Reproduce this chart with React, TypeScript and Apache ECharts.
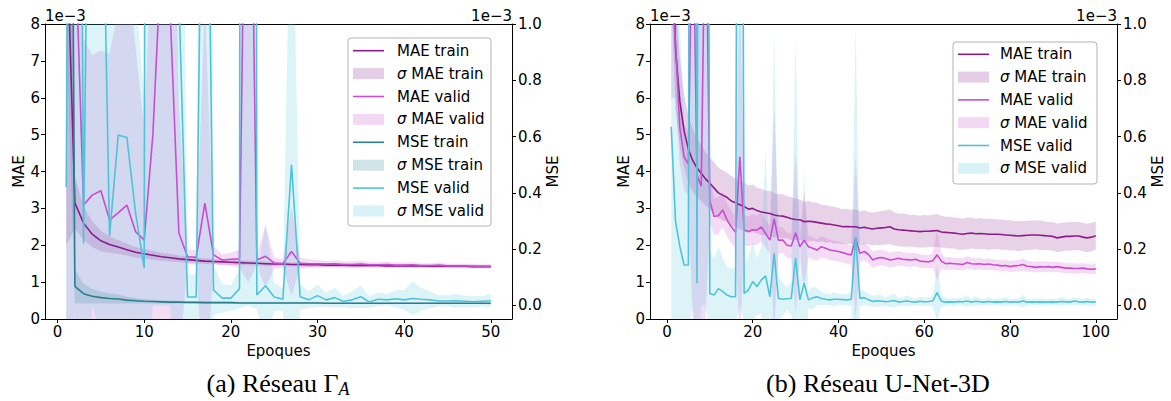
import React, { useEffect, useRef } from "react";
import * as echarts from "echarts";

// ---------- DATA ----------
// (a) Réseau Γ_A : epochs 1..50 — MAE and MSE values in units of 1e-3
const epochsA = Array.from({ length: 50 }, (_, i) => i + 1);
const maeTrainA = [11.0, 3.15, 2.6, 2.3, 2.12, 2.02, 1.95, 1.88, 1.81, 1.77, 1.73, 1.69, 1.66, 1.63, 1.61, 1.59, 1.57, 1.56, 1.55, 1.54, 1.53, 1.52, 1.51, 1.5, 1.49, 1.49, 1.48, 1.48, 1.47, 1.47, 1.46, 1.46, 1.46, 1.45, 1.45, 1.45, 1.45, 1.44, 1.44, 1.44, 1.44, 1.44, 1.43, 1.43, 1.43, 1.43, 1.43, 1.42, 1.42, 1.42];
const maeTrainStdA = [9, 0.7, 0.45, 0.35, 0.28, 0.22, 0.19, 0.16, 0.14, 0.13, 0.12, 0.11, 0.1, 0.09, 0.085, 0.08, 0.08, 0.075, 0.07, 0.07, 0.065, 0.065, 0.06, 0.06, 0.06, 0.055, 0.055, 0.055, 0.05, 0.05, 0.05, 0.05, 0.05, 0.05, 0.045, 0.045, 0.045, 0.045, 0.045, 0.045, 0.04, 0.04, 0.04, 0.04, 0.04, 0.04, 0.04, 0.04, 0.04, 0.04];
const maeValidA = [9, 10.6, 3.09, 3.36, 3.48, 2.69, 2.88, 3.09, 2.37, 2.14, 5.0, 10, 8.3, 2.33, 1.69, 1.67, 3.14, 1.74, 1.6, 1.62, 1.63, 19, 1.6, 1.7, 1.52, 1.5, 1.83, 1.51, 1.5, 1.5, 1.49, 1.5, 1.48, 1.48, 1.49, 1.47, 1.47, 1.48, 1.46, 1.46, 1.47, 1.45, 1.45, 1.46, 1.44, 1.44, 1.44, 1.43, 1.43, 1.43];
const maeValidStdA = [12, 12, 4.5, 3.8, 3.8, 4.5, 5.5, 6.5, 5, 3, 6, 10, 9, 3.5, 0.2, 0.2, 5.5, 0.25, 0.15, 0.18, 0.25, 18, 0.15, 0.85, 0.15, 0.12, 1.2, 0.15, 0.12, 0.1, 0.08, 0.09, 0.08, 0.08, 0.09, 0.07, 0.07, 0.08, 0.07, 0.07, 0.07, 0.06, 0.06, 0.07, 0.06, 0.06, 0.06, 0.06, 0.05, 0.06];
const mseTrainA = [5.0, 0.068, 0.042, 0.033, 0.028, 0.025, 0.023, 0.019, 0.017, 0.015, 0.014, 0.013, 0.012, 0.012, 0.011, 0.011, 0.01, 0.01, 0.01, 0.01, 0.009, 0.009, 0.009, 0.009, 0.009, 0.009, 0.009, 0.009, 0.009, 0.009, 0.008, 0.008, 0.008, 0.008, 0.008, 0.008, 0.008, 0.008, 0.008, 0.008, 0.008, 0.008, 0.008, 0.008, 0.008, 0.008, 0.008, 0.008, 0.008, 0.008];
const mseTrainStdA = [4, 0.06, 0.035, 0.026, 0.021, 0.018, 0.016, 0.012, 0.01, 0.008, 0.007, 0.006, 0.006, 0.005, 0.005, 0.005, 0.005, 0.004, 0.004, 0.004, 0.004, 0.004, 0.004, 0.004, 0.004, 0.004, 0.004, 0.004, 0.004, 0.004, 0.003, 0.003, 0.003, 0.003, 0.003, 0.003, 0.003, 0.003, 0.003, 0.003, 0.003, 0.003, 0.003, 0.003, 0.003, 0.003, 0.003, 0.003, 0.003, 0.003];
const mseValidA = [0.42, 6, 0.22, 3, 1.9, 0.247, 0.606, 0.597, 0.33, 0.133, 20, 8, 10, 1.1, 0.03, 0.03, 2.5, 0.055, 0.026, 0.026, 0.06, 30, 0.037, 0.07, 0.03, 0.022, 0.5, 0.031, 0.02, 0.035, 0.02, 0.028, 0.014, 0.02, 0.031, 0.012, 0.022, 0.02, 0.024, 0.02, 0.025, 0.022, 0.02, 0.016, 0.016, 0.017, 0.015, 0.013, 0.015, 0.017];
const mseValidStdA = [1.5, 6, 1.2, 3, 2, 1.0, 1.2, 1.0, 0.8, 0.6, 20, 8, 10, 2, 0.08, 0.08, 3, 0.09, 0.05, 0.045, 0.07, 30, 0.05, 0.22, 0.05, 0.04, 1.2, 0.045, 0.03, 0.04, 0.025, 0.035, 0.02, 0.03, 0.04, 0.02, 0.025, 0.02, 0.03, 0.035, 0.06, 0.04, 0.03, 0.02, 0.02, 0.025, 0.02, 0.02, 0.018, 0.025];

// (b) Réseau U-Net-3D : epochs 1..100
const epochsB = Array.from({ length: 100 }, (_, i) => i + 1);
const maeTrainB = [12, 7.3, 5.9, 5.1, 4.6, 4.3, 4.1, 3.95, 3.8, 3.68, 3.55, 3.42, 3.36, 3.3, 3.2, 3.15, 3.1, 3.05, 2.98, 3.0, 2.94, 2.9, 2.88, 2.86, 2.82, 2.8, 2.79, 2.76, 2.72, 2.7, 2.69, 2.64, 2.65, 2.64, 2.62, 2.6, 2.58, 2.57, 2.55, 2.53, 2.5, 2.51, 2.5, 2.5, 2.47, 2.49, 2.46, 2.44, 2.46, 2.47, 2.48, 2.5, 2.44, 2.42, 2.41, 2.4, 2.39, 2.38, 2.37, 2.38, 2.38, 2.39, 2.4, 2.36, 2.35, 2.34, 2.33, 2.31, 2.3, 2.32, 2.33, 2.31, 2.32, 2.31, 2.3, 2.3, 2.3, 2.29, 2.28, 2.27, 2.26, 2.25, 2.26, 2.27, 2.28, 2.28, 2.27, 2.26, 2.25, 2.24, 2.2, 2.22, 2.24, 2.24, 2.25, 2.25, 2.22, 2.2, 2.22, 2.26];
const maeTrainStdB = [3, 1.6, 1.2, 1.0, 0.9, 0.85, 0.8, 0.76, 0.72, 0.7, 0.7, 0.68, 0.68, 0.66, 0.68, 0.66, 0.65, 0.66, 0.64, 0.65, 0.62, 0.63, 0.6, 0.62, 0.6, 0.58, 0.6, 0.57, 0.58, 0.56, 0.55, 0.54, 0.55, 0.52, 0.53, 0.5, 0.51, 0.49, 0.5, 0.48, 0.47, 0.48, 0.46, 0.47, 0.45, 0.46, 0.44, 0.45, 0.45, 0.46, 0.46, 0.47, 0.45, 0.44, 0.45, 0.44, 0.43, 0.44, 0.43, 0.44, 0.43, 0.44, 0.45, 0.43, 0.42, 0.43, 0.42, 0.43, 0.42, 0.43, 0.42, 0.41, 0.42, 0.41, 0.42, 0.41, 0.4, 0.41, 0.4, 0.41, 0.4, 0.41, 0.4, 0.39, 0.4, 0.39, 0.4, 0.39, 0.38, 0.39, 0.38, 0.39, 0.38, 0.39, 0.38, 0.38, 0.39, 0.38, 0.39, 0.38];
const maeValidB = [9, 7.5, 5.2, 4.4, 4.2, 12, 3.9, 3.6, 12, 3.2, 2.78, 2.8, 2.96, 2.69, 2.5, 2.35, 4.4, 2.41, 2.37, 2.42, 2.41, 2.5, 2.32, 2.14, 2.72, 2.14, 2.14, 2.0, 1.98, 2.34, 1.96, 2.14, 1.96, 1.92, 1.87, 1.96, 1.92, 1.87, 1.85, 1.83, 1.8, 1.76, 1.74, 2.19, 1.78, 1.83, 1.75, 1.6, 1.65, 1.67, 1.64, 1.6, 1.62, 1.65, 1.62, 1.61, 1.6, 1.62, 1.57, 1.56, 1.55, 1.58, 1.74, 1.57, 1.5, 1.51, 1.5, 1.49, 1.48, 1.53, 1.5, 1.49, 1.5, 1.48, 1.49, 1.47, 1.46, 1.44, 1.45, 1.42, 1.44, 1.45, 1.48, 1.43, 1.42, 1.4, 1.42, 1.41, 1.42, 1.4, 1.42, 1.4, 1.38, 1.38, 1.37, 1.37, 1.38, 1.36, 1.35, 1.36];
const maeValidStdB = [3, 1.5, 1.0, 0.9, 0.85, 12, 4, 5, 12, 0.6, 0.5, 0.5, 0.48, 0.45, 0.45, 0.42, 5, 0.42, 0.4, 0.42, 0.4, 0.4, 0.38, 0.38, 3.0, 0.36, 0.35, 0.34, 0.34, 2.2, 0.32, 1.3, 0.3, 0.3, 0.29, 0.29, 0.28, 0.28, 0.27, 0.27, 0.26, 0.26, 0.25, 2.2, 0.24, 0.23, 0.23, 0.22, 0.22, 0.21, 0.21, 0.2, 0.2, 0.2, 0.19, 0.19, 0.19, 0.18, 0.18, 0.18, 0.18, 0.2, 0.68, 0.2, 0.17, 0.17, 0.16, 0.17, 0.16, 0.17, 0.16, 0.16, 0.16, 0.15, 0.16, 0.15, 0.15, 0.15, 0.15, 0.15, 0.15, 0.15, 0.17, 0.15, 0.14, 0.14, 0.15, 0.14, 0.14, 0.14, 0.14, 0.14, 0.14, 0.13, 0.14, 0.13, 0.14, 0.13, 0.13, 0.14];
const mseValidB = [0.635, 0.3, 0.21, 0.144, 0.144, 8, 0.079, 6, 5, 0.043, 0.037, 0.06, 0.05, 0.037, 0.031, 0.031, 5, 0.043, 0.055, 0.085, 0.067, 0.09, 0.105, 0.031, 0.185, 0.025, 0.022, 0.024, 0.025, 0.168, 0.02, 0.079, 0.02, 0.027, 0.031, 0.025, 0.022, 0.02, 0.022, 0.022, 0.021, 0.02, 0.022, 0.245, 0.025, 0.028, 0.02, 0.014, 0.017, 0.016, 0.013, 0.015, 0.018, 0.012, 0.014, 0.016, 0.013, 0.012, 0.015, 0.013, 0.014, 0.016, 0.046, 0.015, 0.012, 0.013, 0.012, 0.014, 0.013, 0.016, 0.012, 0.015, 0.013, 0.012, 0.014, 0.012, 0.013, 0.012, 0.014, 0.012, 0.013, 0.012, 0.016, 0.012, 0.013, 0.012, 0.013, 0.012, 0.012, 0.013, 0.012, 0.014, 0.013, 0.012, 0.016, 0.013, 0.012, 0.014, 0.012, 0.012];
const mseValidStdB = [0.8, 0.7, 0.8, 0.5, 0.25, 8, 0.3, 6, 5, 0.15, 0.13, 0.15, 0.12, 0.1, 0.1, 0.1, 5, 0.1, 0.12, 0.14, 0.1, 0.12, 0.45, 0.05, 0.78, 0.08, 0.06, 0.04, 0.06, 0.8, 0.05, 0.4, 0.03, 0.04, 0.03, 0.025, 0.02, 0.02, 0.025, 0.02, 0.02, 0.02, 0.025, 0.76, 0.03, 0.025, 0.02, 0.02, 0.02, 0.02, 0.015, 0.02, 0.025, 0.015, 0.015, 0.02, 0.015, 0.012, 0.015, 0.015, 0.015, 0.02, 0.1, 0.02, 0.015, 0.012, 0.015, 0.012, 0.015, 0.02, 0.012, 0.018, 0.012, 0.012, 0.015, 0.012, 0.012, 0.012, 0.015, 0.012, 0.012, 0.012, 0.022, 0.012, 0.012, 0.012, 0.012, 0.012, 0.012, 0.012, 0.012, 0.015, 0.012, 0.012, 0.015, 0.012, 0.012, 0.014, 0.012, 0.012];

// tick labels
const xTicksA = [0, 10, 20, 30, 40, 50];
const xTicksB = [0, 20, 40, 60, 80, 100];
const mseTicks = [0, 0.2, 0.4, 0.6, 0.8, 1.0];

// ---------- STYLE ----------
const FONT = "DejaVu Sans";
const FS = 15;
const C = {
  maeTrain: "#8B1C8B",
  maeValid: "#C84ECF",
  mseTrain: "#2A7F8E",
  mseValid: "#4EC4D9",
};

function lineSeries(name: string, xs: number[], ys: number[], color: string, xi: number, yi: number) {
  return {
    type: "line",
    name,
    xAxisIndex: xi,
    yAxisIndex: yi,
    data: ys.map((v, i) => [xs[i], v]),
    symbol: "none",
    lineStyle: { color, width: 1.6 },
    itemStyle: { color },
    silent: true,
  };
}

// mean ± std band, drawn as one polygon through the axes' own scales
function bandSeries(name: string, xs: number[], mean: number[], std: number[], color: string, xi: number, yi: number) {
  const data = xs.map((x, i) => [x, mean[i] - std[i], mean[i] + std[i]]);
  return {
    type: "custom",
    name,
    xAxisIndex: xi,
    yAxisIndex: yi,
    data,
    encode: { x: 0, y: [1, 2] },
    silent: true,
    renderItem: (params: any, api: any) => {
      if (params.dataIndex !== 0) return null;
      const upper = data.map((d) => api.coord([d[0], d[2]]));
      const lower = data.map((d) => api.coord([d[0], d[1]])).reverse();
      const cs = params.coordSys;
      return {
        type: "polygon",
        shape: { points: upper.concat(lower) },
        style: { fill: color, opacity: 0.2 },
        clipPath: { type: "rect", shape: { x: cs.x, y: cs.y, width: cs.width, height: cs.height } },
      };
    },
  };
}

function xAxisBottom(gi: number, min: number, max: number, ticks: number[]) {
  return {
    gridIndex: gi,
    type: "value",
    position: "bottom",
    min,
    max,
    axisLine: { show: true, onZero: false, lineStyle: { color: "#000", width: 1 } },
    axisTick: { show: true, length: 4, customValues: ticks, lineStyle: { color: "#000" } },
    axisLabel: { customValues: ticks, color: "#000", fontSize: FS, fontFamily: FONT, margin: 5 },
    splitLine: { show: false },
    name: "Epoques",
    nameLocation: "middle",
    nameGap: 21,
    nameTextStyle: { color: "#000", fontSize: FS, fontFamily: FONT },
  };
}

function xAxisTop(gi: number, min: number, max: number) {
  return {
    gridIndex: gi,
    type: "value",
    position: "top",
    min,
    max,
    axisLine: { show: true, onZero: false, lineStyle: { color: "#000", width: 1 } },
    axisTick: { show: false },
    axisLabel: { show: false },
    splitLine: { show: false },
  };
}

function maeAxis(gi: number) {
  return {
    gridIndex: gi,
    type: "value",
    position: "left",
    min: 0,
    max: 8,
    interval: 1,
    axisLine: { show: true, onZero: false, lineStyle: { color: "#000", width: 1 } },
    axisTick: { show: true, length: 4, lineStyle: { color: "#000" } },
    axisLabel: { color: "#000", fontSize: FS, fontFamily: FONT, margin: 5 },
    splitLine: { show: false },
    name: "MAE",
    nameLocation: "middle",
    nameGap: 18,
    nameRotate: 90,
    nameTextStyle: { color: "#000", fontSize: FS, fontFamily: FONT },
  };
}

function mseAxis(gi: number) {
  return {
    gridIndex: gi,
    type: "value",
    position: "right",
    min: -0.048,
    max: 1.0,
    axisLine: { show: true, onZero: false, lineStyle: { color: "#000", width: 1 } },
    axisTick: { show: true, length: 4, customValues: mseTicks, lineStyle: { color: "#000" } },
    axisLabel: {
      customValues: mseTicks,
      color: "#000",
      fontSize: FS,
      fontFamily: FONT,
      margin: 6,
      formatter: (v: number) => v.toFixed(1),
    },
    splitLine: { show: false },
    name: "MSE",
    nameLocation: "middle",
    nameGap: 33,
    nameRotate: 90,
    nameTextStyle: { color: "#000", fontSize: FS, fontFamily: FONT },
  };
}

type Entry = { label: string; kind: "line" | "band"; color: string };

function legendElements(box: { x: number; y: number; w: number; h: number }, hx: number, tx: number, y0: number, step: number, entries: Entry[]) {
  const els: any[] = [
    {
      type: "rect",
      z: 100,
      shape: { x: box.x, y: box.y, width: box.w, height: box.h, r: 3 },
      style: { fill: "rgba(255,255,255,0.85)", stroke: "#b3b3b3", lineWidth: 1 },
    },
  ];
  entries.forEach((e, i) => {
    const cy = y0 + i * step;
    if (e.kind === "line") {
      els.push({
        type: "line",
        z: 101,
        shape: { x1: hx, y1: cy, x2: hx + 31, y2: cy },
        style: { stroke: e.color, lineWidth: 1.6 },
      });
    } else {
      els.push({
        type: "rect",
        z: 101,
        shape: { x: hx, y: cy - 5.5, width: 31, height: 11 },
        style: { fill: e.color, opacity: 0.22 },
      });
    }
    const isSigma = e.label.startsWith("σ");
    els.push({
      type: "text",
      z: 101,
      x: tx,
      y: cy,
      style: {
        text: isSigma ? "{i|σ}" + e.label.slice(1) : e.label,
        fill: "#000",
        fontSize: FS,
        fontFamily: FONT,
        align: "left",
        verticalAlign: "middle",
        textAlign: "left",
        textVerticalAlign: "middle",
        rich: { i: { fontStyle: "italic", fontSize: FS, fontFamily: FONT, fill: "#000" } },
      },
    });
  });
  return els;
}

function offsetText(x: number, y: number, align: string) {
  return {
    type: "text",
    z: 100,
    x,
    y,
    style: {
      text: "1e\u22123",
      fill: "#000",
      fontSize: FS,
      fontFamily: FONT,
      align,
      textAlign: align,
      verticalAlign: "bottom",
      textVerticalAlign: "bottom",
    },
  };
}

function caption(x: number, y: number, main: string, sub: string) {
  return {
    type: "text",
    z: 100,
    x,
    y,
    style: {
      text: sub ? main + "{s|" + sub + "}" : main,
      fill: "#000",
      fontSize: 26,
      fontFamily: "Liberation Serif",
      align: "center",
      textAlign: "center",
      verticalAlign: "middle",
      textVerticalAlign: "middle",
      rich: {
        s: { fontSize: 18, fontStyle: "italic", fontFamily: "Liberation Serif", fill: "#000", padding: [12, 0, 0, 0] },
      },
    },
  };
}

export default function App() {
  const ref = useRef<HTMLDivElement>(null);

  useEffect(() => {
    document.body.style.margin = "0";
    if (!ref.current) return;
    const chart = echarts.init(ref.current, null, { renderer: "svg" });

    const entriesA: Entry[] = [
      { label: "MAE train", kind: "line", color: C.maeTrain },
      { label: "σ MAE train", kind: "band", color: C.maeTrain },
      { label: "MAE valid", kind: "line", color: C.maeValid },
      { label: "σ MAE valid", kind: "band", color: C.maeValid },
      { label: "MSE train", kind: "line", color: C.mseTrain },
      { label: "σ MSE train", kind: "band", color: C.mseTrain },
      { label: "MSE valid", kind: "line", color: C.mseValid },
      { label: "σ MSE valid", kind: "band", color: C.mseValid },
    ];
    const entriesB: Entry[] = [
      { label: "MAE train", kind: "line", color: C.maeTrain },
      { label: "σ MAE train", kind: "band", color: C.maeTrain },
      { label: "MAE valid", kind: "line", color: C.maeValid },
      { label: "σ MAE valid", kind: "band", color: C.maeValid },
      { label: "MSE valid", kind: "line", color: C.mseValid },
      { label: "σ MSE valid", kind: "band", color: C.mseValid },
    ];

    const series: any[] = [
      // chart (a)
      bandSeries("σ MAE train", epochsA, maeTrainA, maeTrainStdA, C.maeTrain, 0, 0),
      lineSeries("MAE train", epochsA, maeTrainA, C.maeTrain, 0, 0),
      bandSeries("σ MAE valid", epochsA, maeValidA, maeValidStdA, C.maeValid, 0, 0),
      lineSeries("MAE valid", epochsA, maeValidA, C.maeValid, 0, 0),
      bandSeries("σ MSE train", epochsA, mseTrainA, mseTrainStdA, C.mseTrain, 0, 1),
      lineSeries("MSE train", epochsA, mseTrainA, C.mseTrain, 0, 1),
      bandSeries("σ MSE valid", epochsA, mseValidA, mseValidStdA, C.mseValid, 0, 1),
      lineSeries("MSE valid", epochsA, mseValidA, C.mseValid, 0, 1),
      // chart (b)
      bandSeries("σ MAE train", epochsB, maeTrainB, maeTrainStdB, C.maeTrain, 1, 2),
      lineSeries("MAE train", epochsB, maeTrainB, C.maeTrain, 1, 2),
      bandSeries("σ MAE valid", epochsB, maeValidB, maeValidStdB, C.maeValid, 1, 2),
      lineSeries("MAE valid", epochsB, maeValidB, C.maeValid, 1, 2),
      bandSeries("σ MSE valid", epochsB, mseValidB, mseValidStdB, C.mseValid, 1, 3),
      lineSeries("MSE valid", epochsB, mseValidB, C.mseValid, 1, 3),
    ];

    const option: any = {
      animation: false,
      textStyle: { fontFamily: FONT },
      grid: [
        { left: 45, top: 24, width: 467, height: 295, containLabel: false },
        { left: 650, top: 24, width: 467, height: 295, containLabel: false },
      ],
      xAxis: [
        xAxisBottom(0, -1.45, 52.45, xTicksA),
        xAxisBottom(1, -3.95, 104.95, xTicksB),
        xAxisTop(0, -1.45, 52.45),
        xAxisTop(1, -3.95, 104.95),
      ],
      yAxis: [maeAxis(0), mseAxis(0), maeAxis(1), mseAxis(1)],
      series,
      graphic: [
        offsetText(45, 23, "left"),
        offsetText(512, 23, "right"),
        offsetText(650, 23, "left"),
        offsetText(1117, 23, "right"),
        ...legendElements({ x: 348, y: 38, w: 143, h: 188 }, 353, 397, 50.7, 22.9, entriesA),
        ...legendElements({ x: 953, y: 42, w: 144, h: 142 }, 958, 1000, 54.3, 22.8, entriesB),
        caption(278, 383, "(a) Réseau Γ", "A"),
        caption(878, 383, "(b) Réseau U-Net-3D", ""),
      ],
    };

    chart.setOption(option);
    return () => chart.dispose();
  }, []);

  return <div ref={ref} style={{ width: 1171, height: 401 }} />;
}
